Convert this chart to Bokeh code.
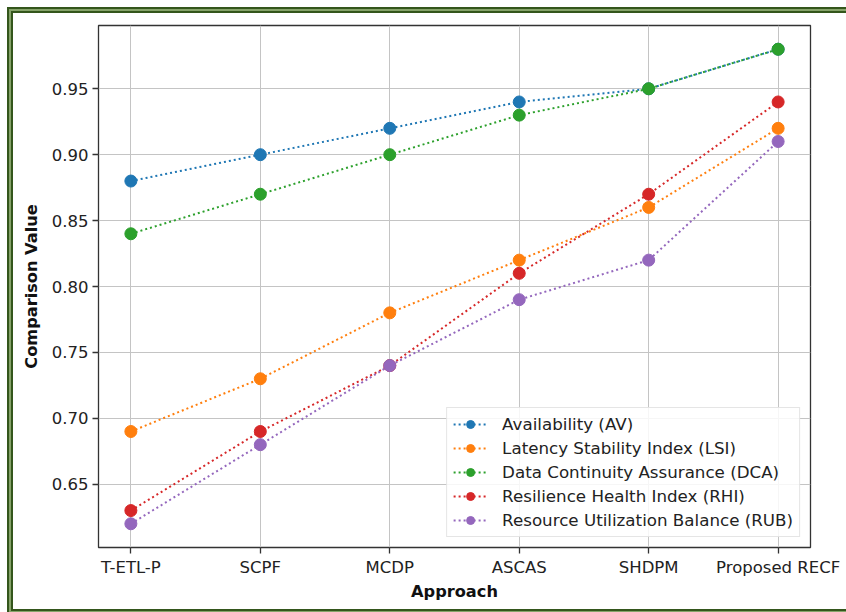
from bokeh.plotting import figure
from bokeh.models import Range1d, FixedTicker, Legend, LegendItem
from bokeh.embed import file_html
from bokeh.resources import INLINE

categories = ["T-ETL-P", "SCPF", "MCDP", "ASCAS", "SHDPM", "Proposed RECF"]
av = [0.88, 0.90, 0.92, 0.94, 0.95, 0.98]
lsi = [0.69, 0.73, 0.78, 0.82, 0.86, 0.92]
dca = [0.84, 0.87, 0.90, 0.93, 0.95, 0.98]
rhi = [0.63, 0.69, 0.74, 0.81, 0.87, 0.94]
rub = [0.62, 0.68, 0.74, 0.79, 0.82, 0.91]
series_names = ["Availability (AV)", "Latency Stability Index (LSI)",
                "Data Continuity Assurance (DCA)", "Resilience Health Index (RHI)",
                "Resource Utilization Balance (RUB)"]
y_ticks = [0.65, 0.70, 0.75, 0.80, 0.85, 0.90, 0.95]

colors = ["#1f77b4", "#ff7f0e", "#2ca02c", "#d62728", "#9467bd"]
FONT = "DejaVu Sans"
W, H = 846, 612

p = figure(width=W, height=H, output_backend="svg", toolbar_location=None,
           x_range=Range1d(-0.25, 5.25), y_range=Range1d(0.602, 0.998),
           min_border_left=98, min_border_right=36, min_border_top=25,
           min_border_bottom=65)

# decorative double green frame (top, left, bottom edges) drawn as CSS backgrounds
dark, light = "#34561c", "#86a36a"
def g(col, x, y, w, h):
    return f"linear-gradient({col},{col}) {x}px {y}px / {w}px {h}px no-repeat"
layers = [
    g(dark, 7, 7, W - 7, 2), g(light, 9, 9, W - 9, 2), g(dark, 11, 11, W - 11, 2),
    g(dark, 7, 7, 2, H - 7), g(light, 9, 9, 2, H - 9), g(dark, 11, 11, 2, H - 13),
    g(dark, 11, H - 3, W - 11, 2), g(light, 9, H - 1, W - 9, 1),
]
p.styles = {"background": ", ".join(layers) + ", white"}
p.border_fill_color = None
p.border_fill_alpha = 0

xs = list(range(len(categories)))
items = []
for name, vals, c in zip(series_names, [av, lsi, dca, rhi, rub], colors):
    r1 = p.line(xs, vals, line_color=c, line_width=2, line_dash="2 3")
    r2 = p.scatter(xs, vals, size=12, fill_color=c, line_color=c)
    items.append(LegendItem(label=name, renderers=[r1, r2]))

legend = Legend(items=items, location="bottom_right", margin=10,
                label_text_font=FONT, label_text_font_size="16.7px",
                label_text_color="#222222",
                border_line_color="#cccccc", border_line_width=1,
                background_fill_alpha=0.85, padding=6, spacing=4,
                glyph_width=34, glyph_height=20, label_height=20,
                label_standoff=15)
p.add_layout(legend, "center")

p.xaxis.ticker = FixedTicker(ticks=xs)
p.xaxis.major_label_overrides = {i: c for i, c in enumerate(categories)}
p.yaxis.ticker = FixedTicker(ticks=y_ticks)
p.yaxis.major_label_overrides = {t: f"{t:.2f}" for t in y_ticks}

for ax in [p.xaxis[0], p.yaxis[0]]:
    ax.major_label_text_font = FONT
    ax.major_label_text_font_size = "16.5px"
    ax.major_label_text_color = "#222222"
    ax.axis_label_text_font = FONT
    ax.axis_label_text_font_size = "16.2px"
    ax.axis_label_text_font_style = "bold"
    ax.axis_label_text_color = "#111111"
    ax.major_tick_out = 6
    ax.major_tick_in = 0
    ax.minor_tick_out = 0
    ax.minor_tick_in = 0
    ax.axis_line_color = None
    ax.major_tick_line_color = "#333333"
    ax.major_tick_line_width = 1.3
    ax.major_label_standoff = 4
p.xaxis.axis_label = "Approach"
p.yaxis.axis_label = "Comparison Value"
p.xaxis.axis_label_standoff = 2
p.yaxis.axis_label_standoff = 8

p.grid.grid_line_color = "#c4c4c4"
p.grid.grid_line_width = 1
p.outline_line_color = "#333333"
p.outline_line_width = 1.3
p.background_fill_color = "white"

open("out.html", "w").write(file_html(p, INLINE))
